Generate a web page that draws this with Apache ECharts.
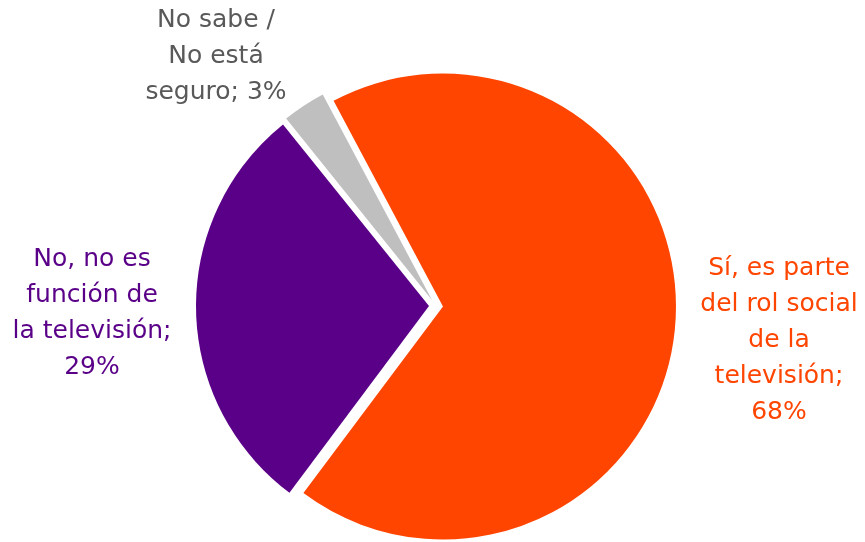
<!DOCTYPE html>
<html>
<head>
<meta charset="utf-8">
<script src="https://cdn.jsdelivr.net/npm/echarts@6/dist/echarts.min.js"></script>
<style>
html,body{margin:0;padding:0;background:#fff;}
#chart{width:865px;height:542px;}
</style>
</head>
<body>
<div id="chart"></div>
<script>
const categories = ['Sí, es parte del rol social de la televisión', 'No, no es función de la televisión', 'No sabe / No está seguro'];
const values = [68, 29, 3];
const labelTexts = [
  'Sí, es parte\ndel rol social\nde la\ntelevisión;\n68%',
  'No, no es\nfunción de\nla televisión;\n29%',
  'No sabe /\nNo está\nseguro; 3%'
];
const colors = ['#FF4500', '#5A0088', '#BFBFBF'];
const labelColors = ['#FF4500', '#5A0088', '#595959'];
const labelPos = [[779, 340], [92, 313], [216, 56]];

const chart = echarts.init(document.getElementById('chart'), null, {renderer: 'canvas'});
chart.setOption({
  animation: false,
  graphic: labelTexts.map((t, i) => ({
    type: 'text',
    x: labelPos[i][0],
    y: labelPos[i][1],
    style: {
      text: t,
      fill: labelColors[i],
      font: '25px "DejaVu Sans"',
      lineHeight: 36,
      align: 'center',
      verticalAlign: 'middle'
    }
  })),
  series: [{
    type: 'pie',
    center: [436, 306],
    radius: [0, 233],
    startAngle: 118,
    clockwise: true,
    selectedMode: 'multiple',
    selectedOffset: 7,
    labelLine: {show: false},
    label: {show: false},
    emphasis: {disabled: true},
    data: categories.map((c, i) => ({
      name: c,
      value: values[i],
      selected: true,
      itemStyle: {color: colors[i], borderWidth: 0},
      select: {itemStyle: {color: colors[i], borderWidth: 0}}
    }))
  }]
});
</script>
</body>
</html>
